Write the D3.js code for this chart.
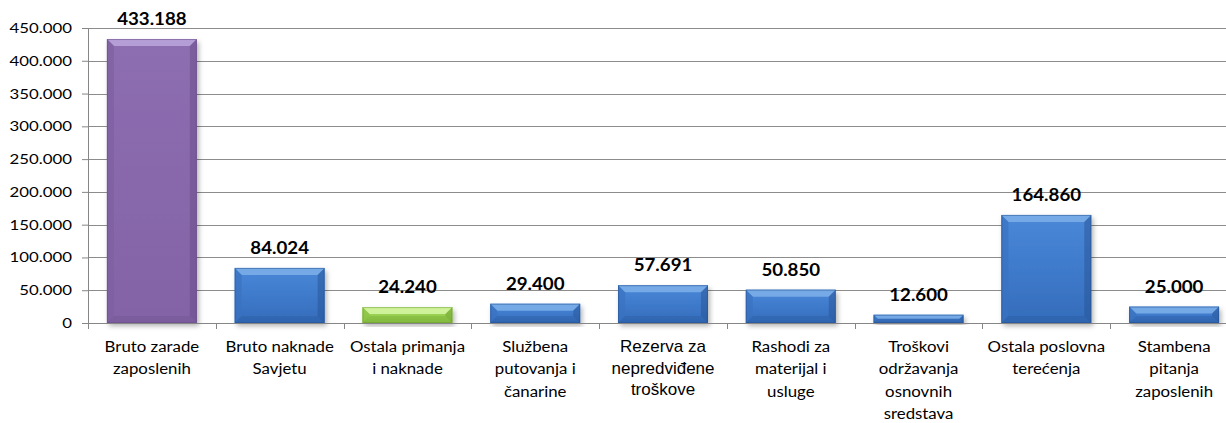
<!DOCTYPE html>
<html>
<head>
<meta charset="utf-8">
<script src="https://cdn.jsdelivr.net/npm/d3@7"></script>
<style>
    body { margin: 0; background: #fff; }
    svg { display: block; }
    .tick text { fill: #000; }
</style>
</head>
<body>
<svg id="chart" width="1226" height="423"></svg>
<script>
// data
var categories = [
    ["Bruto zarade", "zaposlenih"],
    ["Bruto naknade", "Savjetu"],
    ["Ostala primanja", "i naknade"],
    ["Službena", "putovanja i", "čanarine"],
    ["Rezerva za", "nepredviđene", "troškove"],
    ["Rashodi za", "materijal i", "usluge"],
    ["Troškovi", "održavanja", "osnovnih", "sredstava"],
    ["Ostala poslovna", "terećenja"],
    ["Stambena", "pitanja", "zaposlenih"]
];
var values = [433188, 84024, 24240, 29400, 57691, 50850, 12600, 164860, 25000];
var value_labels = ["433.188", "84.024", "24.240", "29.400", "57.691", "50.850", "12.600", "164.860", "25.000"];
var y_ticks = [0, 50000, 100000, 150000, 200000, 250000, 300000, 350000, 400000, 450000];
var y_tick_labels = ["0", "50.000", "100.000", "150.000", "200.000", "250.000", "300.000", "350.000", "400.000", "450.000"];

var palette = {
    purple: {top: "#8d6eb1", mid: "#8868ab", bot: "#8363a6", light: "#b9a2da", side: "#7d5fa0", dark: "#654a86"},
    blue:   {top: "#4a88d8", mid: "#3f7acb", bot: "#346cba", light: "#7aaee8", side: "#3a72c0", dark: "#24508f"},
    green:  {top: "#a6dc62", mid: "#98d050", bot: "#8cc444", light: "#d4f5a2", side: "#8cc246", dark: "#6a9a2c"}
};
var bar_colors = ["purple", "blue", "green", "blue", "blue", "blue", "blue", "blue", "blue"];

var margin = {top: 28, left: 88},
    plot_width = 1150,
    plot_height = 295;

var svg = d3.select("#chart"),
    defs = svg.append("defs"),
    g = svg.append("g").attr("transform", "translate(" + margin.left + "," + margin.top + ")");

var x = d3.scaleBand().domain(d3.range(categories.length)).range([0, plot_width]).paddingInner(0.296).paddingOuter(0.148);
var y = d3.scaleLinear().domain([0, 450000]).range([plot_height, 0]);

// gradients + shadow
Object.keys(palette).forEach(function (k) {
    var c = palette[k];
    var grad = defs.append("linearGradient").attr("id", "grad-" + k)
        .attr("x1", 0).attr("y1", 0).attr("x2", 0).attr("y2", 1);
    grad.append("stop").attr("offset", "0%").attr("stop-color", c.top);
    grad.append("stop").attr("offset", "50%").attr("stop-color", c.mid);
    grad.append("stop").attr("offset", "100%").attr("stop-color", c.bot);
});
var shadow = defs.append("filter").attr("id", "shadow").attr("x", "-10%").attr("y", "-10%").attr("width", "130%").attr("height", "130%");
shadow.append("feDropShadow").attr("dx", 2).attr("dy", 3).attr("stdDeviation", 2.5).attr("flood-color", "#000").attr("flood-opacity", 0.3);

// grid lines
g.append("g").attr("class", "grid")
    .selectAll("line").data(y_ticks.slice(1)).enter().append("line")
    .attr("x1", 0).attr("x2", plot_width)
    .attr("y1", function (d) { return Math.round(y(d)) + 0.5; })
    .attr("y2", function (d) { return Math.round(y(d)) + 0.5; })
    .attr("stroke", "#8c8c8c").attr("stroke-width", 1);

// y axis
var y_axis = g.append("g").attr("class", "axis y-axis")
    .call(d3.axisLeft(y).tickValues(y_ticks).tickSize(6).tickPadding(6)
        .tickFormat(function (d, i) { return y_tick_labels[i]; }));
y_axis.selectAll("text")
    .style("font-family", "Lato, sans-serif").style("font-size", "14px")
    .attr("x", -16 / 1.2).attr("transform", "scale(1.2,1)");
y_axis.selectAll("line, path").attr("stroke", "#868686");
y_axis.select("path").attr("d", "M0.5," + (plot_height + 6) + "V0.5");

// bars
var bar_w = x.bandwidth(), bev = 7;
var bars = g.append("g").selectAll("g.bar").data(values).enter().append("g").attr("class", "bar");

bars.append("rect")
    .attr("x", function (d, i) { return x(i); })
    .attr("y", function (d) { return y(d); })
    .attr("width", bar_w)
    .attr("height", function (d) { return plot_height - y(d); })
    .attr("fill", function (d, i) { return "url(#grad-" + bar_colors[i] + ")"; })
    .attr("filter", "url(#shadow)");

function bevel(d, i, side) {
    var x0 = x(i), x1 = x(i) + bar_w, y0 = y(d), y1 = plot_height;
    var b = Math.min(bev, (y1 - y0) / 2);
    var pts;
    if (side === "top") pts = [[x0, y0], [x1, y0], [x1 - b, y0 + b], [x0 + b, y0 + b]];
    if (side === "left") pts = [[x0, y0], [x0 + b, y0 + b], [x0 + b, y1 - b], [x0, y1]];
    if (side === "right") pts = [[x1, y0], [x1 - b, y0 + b], [x1 - b, y1 - b], [x1, y1]];
    if (side === "bottom") pts = [[x0, y1], [x0 + b, y1 - b], [x1 - b, y1 - b], [x1, y1]];
    return "M" + pts.join("L") + "Z";
}
[["top", "light", 0.9], ["left", "side", 0.7], ["right", "dark", 0.45], ["bottom", "dark", 0.25]].forEach(function (s) {
    bars.append("path")
        .attr("d", function (d, i) { return bevel(d, i, s[0]); })
        .attr("fill", function (d, i) { return palette[bar_colors[i]][s[1]]; })
        .attr("opacity", s[2]);
});
bars.append("rect")
    .attr("x", function (d, i) { return x(i) + 0.5; })
    .attr("y", function (d) { return y(d) + 0.5; })
    .attr("width", bar_w - 1)
    .attr("height", function (d) { return plot_height - y(d) - 1; })
    .attr("fill", "none")
    .attr("stroke", function (d, i) { return palette[bar_colors[i]].dark; })
    .attr("stroke-opacity", 0.5);

// value labels
g.append("g").selectAll("text").data(values).enter().append("text")
    .attr("transform", function (d, i) {
        return "translate(" + (x(i) + bar_w / 2) + "," + (y(d) - 14) + ") scale(1.1,1)";
    })
    .attr("text-anchor", "middle")
    .style("font-family", "Lato, sans-serif")
    .style("font-weight", "bold")
    .style("font-size", "17px")
    .text(function (d, i) { return value_labels[i]; });

// x axis
var step = x.step();
var x_axis = g.append("g").attr("class", "axis x-axis").attr("transform", "translate(0," + plot_height + ")");
x_axis.append("line").attr("x1", 0).attr("x2", plot_width).attr("y1", 0.5).attr("y2", 0.5).attr("stroke", "#868686");
x_axis.selectAll("line.tick").data(d3.range(categories.length + 1)).enter().append("line")
    .attr("class", "tick")
    .attr("x1", function (d) { return Math.round(d * step) + 0.5; })
    .attr("x2", function (d) { return Math.round(d * step) + 0.5; })
    .attr("y1", 0).attr("y2", 6)
    .attr("stroke", "#868686");

var cat_labels = x_axis.selectAll("text.cat").data(categories).enter().append("text")
    .attr("class", "cat")
    .attr("text-anchor", "middle")
    .attr("transform", function (d, i) {
        return "translate(" + (x(i) + bar_w / 2) + ",29)" + (i === 4 ? "" : " scale(1.16,1)");
    })
    .style("font-family", function (d, i) { return i === 4 ? "'Liberation Sans', Arial, sans-serif" : "Lato, sans-serif"; })
    .style("font-size", function (d, i) { return i === 4 ? "17px" : "14.5px"; });

cat_labels.selectAll("tspan").data(function (d) { return d; }).enter().append("tspan")
    .attr("x", 0)
    .attr("dy", function (d, j) {
        var p = d3.select(this.parentNode).datum();
        return j === 0 ? 0 : (p === categories[4] ? 21.7 : 22.5);
    })
    .text(function (d) { return d; });
</script>
</body>
</html>
